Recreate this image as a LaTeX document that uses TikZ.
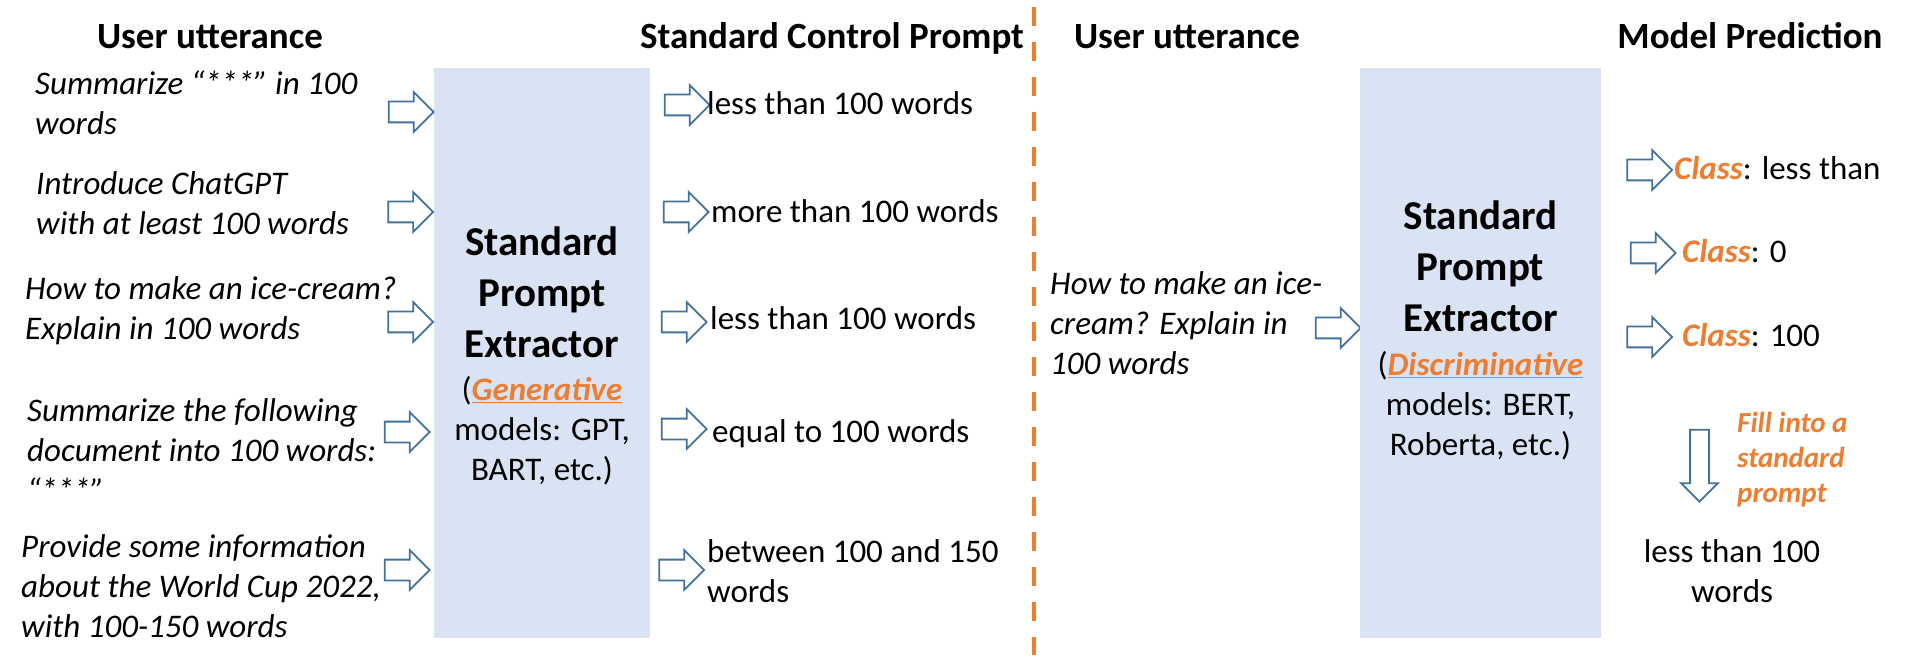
\documentclass[tikz,border=0pt]{standalone}
\usepackage{fontspec}
\setmainfont{Carlito}
\usepackage{xcolor}
\usepackage{tikz}
\usetikzlibrary{shapes.arrows, positioning}

\definecolor{boxblue}{HTML}{DAE3F3}
\definecolor{arrowblue}{HTML}{41719C}
\definecolor{accent}{HTML}{ED7D31}

\newcommand\uttfont{\fontsize{33}{40}\selectfont}
\newcommand\hdrfont{\fontsize{37}{45}\selectfont\bfseries}
\newcommand\extfont{\fontsize{41}{51}\selectfont\bfseries}
\newcommand\fillfont{\fontsize{29}{35}\selectfont\bfseries\itshape}
\newcommand\cls{\textcolor{accent}{\textbf{\textit{Class}}}}
\newcommand\modelkind[1]{\textcolor{accent}{\underline{\textbf{\textit{#1}}}}}

\begin{document}
\begin{tikzpicture}[x=1pt, y=-1pt,
    header/.style={font=\hdrfont, anchor=base, inner sep=0pt},
    plain/.style={font=\uttfont, align=left, anchor=west, inner sep=0pt,
      execute at begin node=\strut, execute at end node=\strut},
    utter/.style={plain, font=\uttfont\itshape},
    extractor/.style={fill=boxblue, minimum width=216, minimum height=570, inner sep=0pt},
    exttitle/.style={font=\extfont, align=center, inner sep=0pt,
      execute at begin node=\strut, execute at end node=\strut},
    extnote/.style={plain, align=center, anchor=center},
    barrow/.style={single arrow, draw=arrowblue, fill=white, line width=1.8,
      minimum height=45, inner xsep=0pt, inner ysep=9.5, single arrow head extend=9.5},
    separator/.style={accent, line width=3.2, dash pattern=on 19 off 16}]
  \useasboundingbox (0,0) rectangle (1928,668);

  % Headers
  \node[header] (hUser) at (210,49) {User utterance};
  \node[header] (hCtrl) at (832,49) {Standard Control Prompt};
  \node[header] (hUser2) at (1187,49) {User utterance};
  \node[header] (hPred) at (1750,49) {Model Prediction};

  % Separator between the two halves
  \coordinate (sepTop) at (1034,7);
  \coordinate (sepBot) at (1034,655);
  \draw[separator] (sepTop) -- (sepBot);

  % Generative extractor
  \node[extractor] (gen) at (542,353) {};
  \node[exttitle] (genTitle) at (542,300) {Standard\\Prompt\\Extractor};
  \node[extnote] (genNote) at (542,434) {(\modelkind{Generative}\\models: GPT,\\BART, etc.)};

  % User utterances (left)
  \node[utter] (u1) at (35,109) {Summarize “***” in 100\\words};
  \node[utter] (u2) at (36,209) {Introduce ChatGPT\\with at least 100 words};
  \node[utter] (u3) at (25,314) {How to make an ice-cream?\\Explain in 100 words};
  \node[utter] (u4) at (27,456) {Summarize the following\\document into 100 words:\\“***”};
  \node[utter] (u5) at (21,592) {Provide some information\\about the World Cup 2022,\\with 100-150 words};

  \node[barrow] (inA) at (406,112) {};
  \node[barrow] (inB) at (405.5,212) {};
  \node[barrow] (inC) at (405.5,322) {};
  \node[barrow] (inD) at (402,432) {};
  \node[barrow] (inE) at (402,570) {};

  % Standard control prompts
  \node[barrow] (outA) at (682,105) {};
  \node[barrow] (outB) at (681,212) {};
  \node[barrow] (outC) at (679,322) {};
  \node[barrow] (outD) at (679,429) {};
  \node[barrow] (outE) at (676.5,570) {};

  \node[plain] (p1) at (707,107) {less than 100 words};
  \node[plain] (p2) at (711,215) {more than 100 words};
  \node[plain] (p3) at (710,322) {less than 100 words};
  \node[plain] (p4) at (712,434) {equal to 100 words};
  \node[plain] (p5) at (707,577) {between 100 and 150\\words};

  % Discriminative extractor
  \node[utter] (q) at (1050,329) {How to make an ice-\\cream? Explain in\\100 words};
  \node[barrow] (inQ) at (1333,328) {};

  \node[extractor, minimum width=241] (disc) at (1480.5,353) {};
  \node[exttitle] (discTitle) at (1480.5,274) {Standard\\Prompt\\Extractor};
  \node[extnote] (discNote) at (1480.5,409) {(\modelkind{Discriminative}\\models: BERT,\\Roberta, etc.)};

  % Model prediction
  \node[barrow] (clsA) at (1644.5,170) {};
  \node[barrow] (clsB) at (1648,253) {};
  \node[barrow] (clsC) at (1644.5,337) {};

  \node[plain] (r1) at (1674,172) {\cls: less than};
  \node[plain] (r2) at (1682,255) {\cls: 0};
  \node[plain] (r3) at (1682,339) {\cls: 100};

  \node[barrow, shape border rotate=270, minimum height=72, inner xsep=8.5, inner ysep=0pt,
    single arrow head extend=9] (fillArrow) at (1699.5,461) {};
  \node[plain, font=\fillfont, text=accent] (fillNote) at (1737,463) {Fill into a\\standard\\prompt};
  \node[extnote] (result) at (1732,577) {less than 100\\words};
\end{tikzpicture}
\end{document}
